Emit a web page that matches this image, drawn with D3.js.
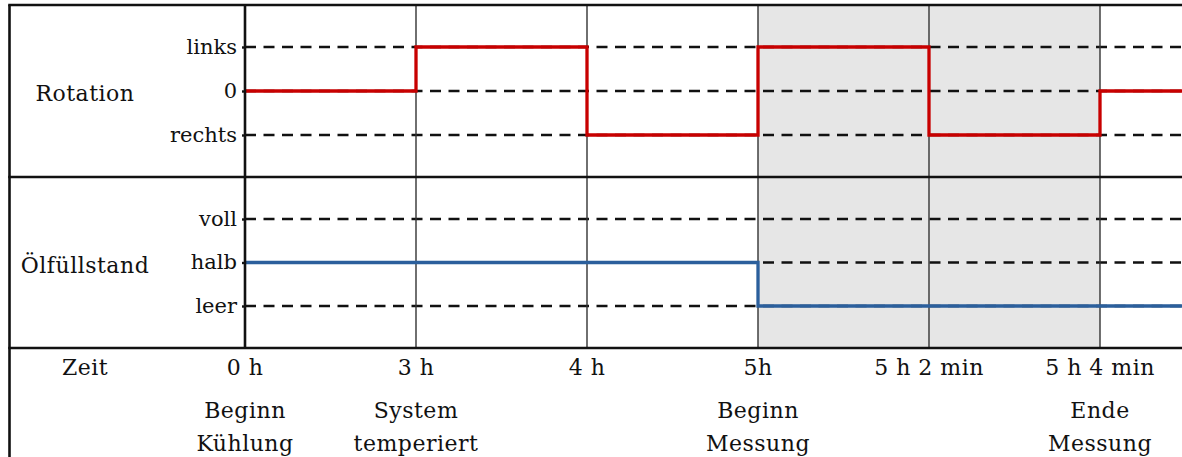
<!DOCTYPE html>
<html>
<head>
<meta charset="utf-8">
<script src="https://cdn.jsdelivr.net/npm/d3@7"></script>
<style>
  html, body { margin: 0; padding: 0; background: #fff; }
  svg { display: block; }
  text { font-family: "DejaVu Serif", "Liberation Serif", serif; fill: #111; }
</style>
</head>
<body>
<svg id="chart" width="1182" height="457"></svg>
<script>
// Time steps along the horizontal axis (equally spaced)
const timeLabels = ["0 h", "3 h", "4 h", "5h", "5 h 2 min", "5 h 4 min"];
const eventLine1 = ["Beginn", "System", "", "Beginn", "", "Ende"];
const eventLine2 = ["Kühlung", "temperiert", "", "Messung", "", "Messung"];

// Rotation signal: levels and state from each time step on
const rotationLevels = ["links", "0", "rechts"];
const rotationStates = ["0", "links", "rechts", "links", "rechts", "0"];

// Oil level signal
const oilLevels = ["voll", "halb", "leer"];
const oilStates = ["halb", "halb", "halb", "leer", "leer", "leer"];

// Shaded measurement interval (start step, end step)
const measureWindow = [3, 5];

const W = 1182, H = 457;
const frameLeft = 9.5, axisX = 245, frameTop = 5, div1 = 177, div2 = 348;
const svg = d3.select("#chart");

const x = d3.scaleLinear().domain([0, 6]).range([axisX, axisX + 6 * 171]);

const panels = [
  { title: "Rotation", levels: rotationLevels, states: rotationStates, color: "#c80000", y0: frameTop, y1: div1 },
  { title: "Ölfüllstand", levels: oilLevels, states: oilStates, color: "#2b5f9c", y0: div1, y1: div2 }
];
panels.forEach(p => {
  p.y = d3.scalePoint().domain(p.levels).range([p.y0 + 42, p.y1 - 42]);
});

// Shaded measurement band
svg.append("rect")
  .attr("x", x(measureWindow[0]))
  .attr("y", frameTop)
  .attr("width", x(measureWindow[1]) - x(measureWindow[0]))
  .attr("height", div2 - frameTop)
  .attr("fill", "#e6e6e6");

// Dashed level lines
panels.forEach(p => {
  svg.append("g").selectAll("line")
    .data(p.levels)
    .join("line")
    .attr("x1", axisX).attr("x2", W)
    .attr("y1", d => p.y(d)).attr("y2", d => p.y(d))
    .attr("stroke", "#111")
    .attr("stroke-width", 2.4)
    .attr("stroke-dasharray", "11,7.5");
});

// Vertical time lines
svg.append("g").selectAll("line")
  .data(d3.range(1, timeLabels.length))
  .join("line")
  .attr("x1", d => x(d)).attr("x2", d => x(d))
  .attr("y1", frameTop).attr("y2", div2)
  .attr("stroke", "#333")
  .attr("stroke-width", 1.4);

// Step signals
panels.forEach(p => {
  const pts = p.states.map((s, i) => [i, s]);
  pts.push([6, p.states[p.states.length - 1]]);
  const line = d3.line()
    .x(d => x(d[0]))
    .y(d => p.y(d[1]))
    .curve(d3.curveStepAfter);
  svg.append("path")
    .attr("d", line(pts))
    .attr("fill", "none")
    .attr("stroke", p.color)
    .attr("stroke-width", 3.3);
});

// Level axes
panels.forEach(p => {
  const ax = svg.append("g")
    .attr("transform", `translate(${axisX},0)`)
    .call(d3.axisLeft(p.y).tickSize(3).tickPadding(5));
  ax.select(".domain").remove();
  ax.selectAll(".tick line").attr("stroke", "#111").attr("stroke-width", 2.4);
  ax.selectAll(".tick text")
    .attr("font-family", "DejaVu Serif")
    .attr("font-size", 21)
    .attr("fill", "#111")
    .attr("dy", "0.3em");
});

// Panel titles
panels.forEach(p => {
  svg.append("text")
    .attr("x", 85).attr("y", (p.y0 + p.y1) / 2 + 10)
    .attr("text-anchor", "middle")
    .attr("font-size", 22)
    .attr("letter-spacing", 0.5)
    .text(p.title);
});

// Frame lines
const frame = svg.append("g").attr("stroke", "#111").attr("stroke-width", 2.6);
[frameTop, div1, div2].forEach(yy => {
  frame.append("line").attr("x1", frameLeft - 1.3).attr("x2", W).attr("y1", yy).attr("y2", yy);
});
frame.append("line").attr("x1", frameLeft).attr("x2", frameLeft).attr("y1", frameTop).attr("y2", H);
frame.append("line").attr("x1", axisX).attr("x2", axisX).attr("y1", frameTop).attr("y2", div2);

// Time row
svg.append("text")
  .attr("x", 85).attr("y", 375)
  .attr("text-anchor", "middle")
  .attr("font-size", 22)
  .attr("letter-spacing", 0.5)
  .text("Zeit");

const tg = svg.append("g").attr("text-anchor", "middle").attr("font-size", 22).attr("letter-spacing", 0.5);
tg.selectAll(".tl").data(timeLabels).join("text")
  .attr("class", "tl")
  .attr("x", (d, i) => x(i)).attr("y", 375)
  .text(d => d);
tg.selectAll(".e1").data(eventLine1).join("text")
  .attr("class", "e1")
  .attr("x", (d, i) => x(i)).attr("y", 418)
  .text(d => d);
tg.selectAll(".e2").data(eventLine2).join("text")
  .attr("class", "e2")
  .attr("x", (d, i) => x(i)).attr("y", 451)
  .text(d => d);
</script>
</body>
</html>
